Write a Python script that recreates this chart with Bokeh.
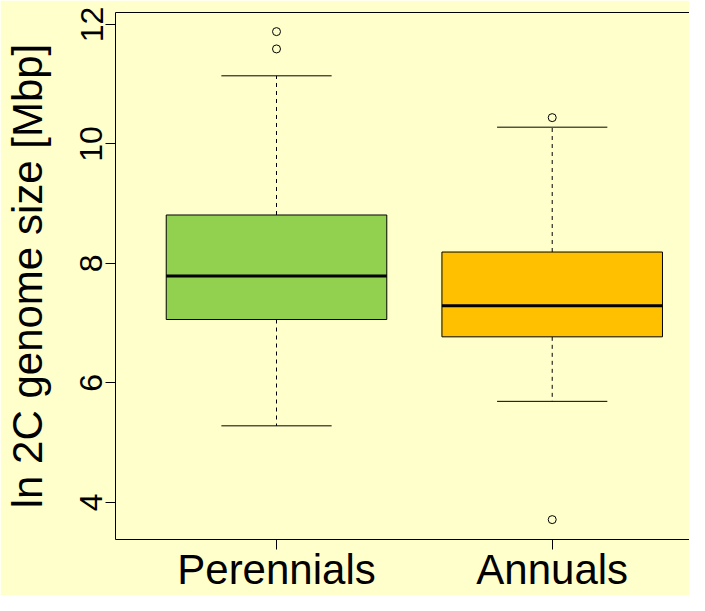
import numpy as np
from bokeh.plotting import figure
from bokeh.models import LinearAxis, FixedTicker, Range1d, ColumnDataSource
from bokeh.embed import file_html
from bokeh.resources import INLINE

# ---- data ----
groups = ["Perennials", "Annuals"]
group_pos = [1, 2]
lower_whisker = [5.28, 5.69]
q1 = [7.06, 6.77]
median = [7.79, 7.29]
q3 = [8.81, 8.19]
upper_whisker = [11.14, 10.28]
box_colors = ["#92D050", "#FFC000"]
outlier_group = [1, 1, 2, 2]
outlier_values = [11.88, 11.59, 10.44, 3.71]
y_ticks = [4, 6, 8, 10, 12]

BG = "#FFFFCC"
FONT = "Liberation Sans"

p = figure(width=689, height=595, output_backend="svg", toolbar_location=None,
           x_range=Range1d(0.416, 2.498), y_range=Range1d(3.377, 12.2),
           x_axis_location=None, y_axis_location=None,
           min_border_left=115, min_border_right=0, min_border_top=12,
           min_border_bottom=53)
p.background_fill_color = BG
p.border_fill_color = BG
p.outline_line_color = None
p.grid.visible = False

# left axis
yax = LinearAxis(ticker=FixedTicker(ticks=y_ticks), axis_label="ln 2C genome size [Mbp]")
yax.major_label_orientation = "vertical"
yax.major_tick_out = 10
yax.major_tick_in = 0
yax.minor_tick_out = 0
yax.minor_tick_in = 0
yax.major_label_standoff = 3
yax.major_label_text_font = FONT
yax.major_label_text_font_size = "32px"
yax.major_label_text_color = "black"
yax.axis_label_text_font = FONT
yax.axis_label_text_font_size = "42px"
yax.axis_label_text_font_style = "normal"
yax.axis_label_text_color = "black"
yax.axis_label_standoff = 27
yax.axis_line_color = "black"
yax.major_tick_line_color = "black"
p.add_layout(yax, "left")

# bottom axis
xax = LinearAxis(ticker=FixedTicker(ticks=group_pos))
xax.major_label_overrides = {g: n for g, n in zip(group_pos, groups)}
xax.major_tick_out = 10
xax.major_tick_in = 0
xax.minor_tick_out = 0
xax.minor_tick_in = 0
xax.major_label_standoff = -4
xax.major_label_text_font = FONT
xax.major_label_text_font_size = "42px"
xax.major_label_text_color = "black"
xax.axis_line_color = "black"
xax.major_tick_line_color = "black"
p.add_layout(xax, "below")

# top frame line
tax = LinearAxis(ticker=FixedTicker(ticks=[]))
tax.major_tick_out = 0
tax.major_tick_in = 0
tax.minor_tick_out = 0
tax.minor_tick_in = 0
tax.major_label_standoff = 0
tax.major_label_text_font_size = "0px"
tax.axis_line_color = "black"
p.add_layout(tax, "above")

# ---- boxes ----
gx = np.array(group_pos, dtype=float)
src = ColumnDataSource(dict(
    x=gx, q1=q1, q3=q3, med=median, lo=lower_whisker, hi=upper_whisker,
    color=box_colors, bx0=gx - 0.4, bx1=gx + 0.4, cx0=gx - 0.2, cx1=gx + 0.2,
))

# whiskers (dashed)
p.segment(x0="x", y0="q3", x1="x", y1="hi", source=src, line_color="black",
          line_width=1, line_dash="4 4")
p.segment(x0="x", y0="q1", x1="x", y1="lo", source=src, line_color="black",
          line_width=1, line_dash="4 4")
# caps
p.segment(x0="cx0", y0="hi", x1="cx1", y1="hi", source=src, line_color="black", line_width=1)
p.segment(x0="cx0", y0="lo", x1="cx1", y1="lo", source=src, line_color="black", line_width=1)
# boxes
p.quad(left="bx0", right="bx1", bottom="q1", top="q3", source=src,
       fill_color="color", line_color="black", line_width=1)
# medians
p.segment(x0="bx0", y0="med", x1="bx1", y1="med", source=src, line_color="black", line_width=3)

# outliers
p.scatter(x=outlier_group, y=outlier_values, marker="circle", size=8,
          fill_color=None, line_color="black", line_width=1)

open("out.html", "w").write(file_html(p, INLINE))
